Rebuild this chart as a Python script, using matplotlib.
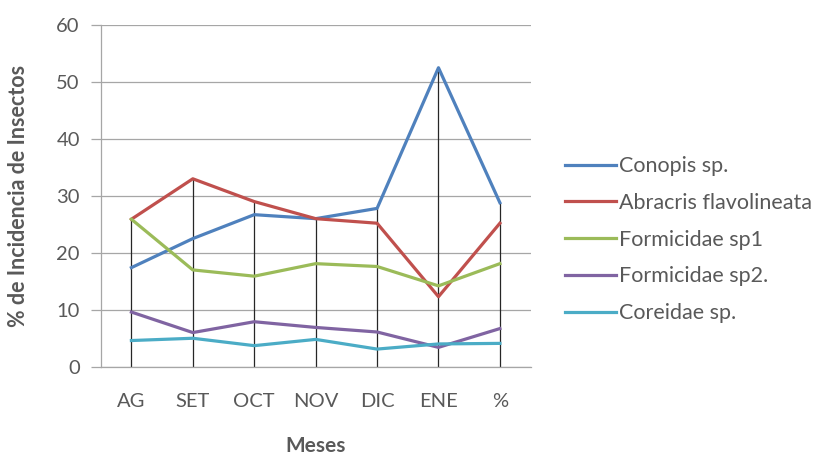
import matplotlib.pyplot as plt
import numpy as np

meses = ["AG", "SET", "OCT", "NOV", "DIC", "ENE", "%"]

conopis = [17.4, 22.5, 26.7, 26.0, 27.8, 52.5, 28.8]
abracris = [25.9, 33.0, 29.0, 26.0, 25.2, 12.3, 25.2]
formicidae_sp1 = [25.9, 17.0, 15.9, 18.1, 17.6, 14.2, 18.1]
formicidae_sp2 = [9.6, 6.0, 7.9, 6.9, 6.1, 3.4, 6.7]
coreidae = [4.6, 5.0, 3.7, 4.8, 3.1, 4.0, 4.1]

series = [
    ("Conopis sp.", conopis, "#4F81BD"),
    ("Abracris flavolineata", abracris, "#C0504D"),
    ("Formicidae sp1", formicidae_sp1, "#9BBB59"),
    ("Formicidae sp2.", formicidae_sp2, "#8064A2"),
    ("Coreidae sp.", coreidae, "#4BACC6"),
]

plt.rcParams['font.family'] = ['Lato', 'DejaVu Sans']
text_color = "#595959"

fig = plt.figure(figsize=(8.22, 4.55), dpi=100)
ax = fig.add_axes([0.1225, 0.194, 0.523, 0.751])

x = np.arange(len(meses))

# drop lines from the highest value of each month down to the axis
tops = np.max([s[1] for s in series], axis=0)
ax.vlines(x, 0, tops, colors="#262626", linewidth=0.9, zorder=2)

for name, vals, color in series:
    ax.plot(x, vals, color=color, linewidth=2.3, label=name, zorder=3)

ax.set_xlim(-0.5, 6.5)
ax.set_ylim(0, 60)
ax.set_yticks(range(0, 61, 10))
ax.set_xticks(x)
ax.set_xticklabels(meses)
ax.grid(axis="y", color="#a6a6a6", linewidth=0.9)
ax.set_axisbelow(True)

for side in ["top", "right"]:
    ax.spines[side].set_visible(False)
for side in ["left", "bottom"]:
    ax.spines[side].set_color("#a6a6a6")
    ax.spines[side].set_linewidth(0.9)

ax.tick_params(axis="y", length=7, width=0.9, color="#a6a6a6", labelsize=14.5,
               labelcolor=text_color, pad=8)
ax.tick_params(axis="x", length=0, labelsize=14.5, labelcolor=text_color, pad=19)

ax.set_ylabel("% de Incidencia de Insectos", fontsize=15.5, fontweight="bold",
              color=text_color, va="center")
ax.yaxis.set_label_coords(-0.192, 0.5)
ax.set_xlabel("Meses", fontsize=15, fontweight="bold", color=text_color,
              va="center")
ax.xaxis.set_label_coords(0.5, -0.232)

fig.legend(loc="upper left", bbox_to_anchor=(0.687, 0.657), frameon=False,
           borderpad=0, borderaxespad=0, fontsize=15.5, handlelength=2.4,
           handletextpad=0.1, labelspacing=0.78, labelcolor=text_color)

fig.savefig("out.png", dpi=100)
